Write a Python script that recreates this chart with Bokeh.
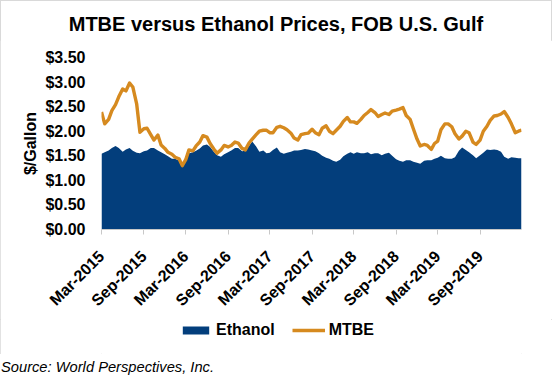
import math
from datetime import datetime
import pandas as pd
from bokeh.plotting import figure
from bokeh.layouts import column
from bokeh.models import (Range1d, FixedTicker, DatetimeTickFormatter, NumeralTickFormatter,
                          Legend, LegendItem, Div)
from bokeh.embed import file_html
from bokeh.resources import INLINE

# ---------------- data (semi-monthly readings, $/gallon) ----------------
start_date = "2015-03-01"
last_date = "2020-02-28"

mtbe = [2.39, 2.15, 2.24, 2.42, 2.54, 2.70, 2.86, 2.82, 2.98, 2.90,
        2.55, 1.98, 2.05, 2.06, 1.93, 1.82, 1.92, 1.72, 1.65, 1.57,
        1.53, 1.47, 1.44, 1.30, 1.42, 1.62, 1.60, 1.70, 1.78, 1.91,
        1.88, 1.75, 1.64, 1.55, 1.62, 1.71, 1.68, 1.71, 1.78, 1.76,
        1.65, 1.62, 1.76, 1.84, 1.93, 2.00, 2.02, 2.02, 1.97, 1.97,
        2.08, 2.10, 2.07, 2.03, 1.96, 1.86, 1.82, 1.93, 1.95, 1.96,
        2.04, 1.97, 1.93, 2.06, 2.11, 2.00, 1.95, 2.02, 2.10, 2.20,
        2.28, 2.19, 2.19, 2.16, 2.24, 2.32, 2.38, 2.44, 2.38, 2.30,
        2.34, 2.37, 2.34, 2.41, 2.43, 2.45, 2.48, 2.32, 2.24, 2.05,
        1.84, 1.70, 1.73, 1.71, 1.63, 1.75, 1.80, 2.03, 2.15, 2.15,
        2.09, 1.95, 1.84, 1.90, 2.00, 1.97, 1.78, 1.73, 1.82, 2.00,
        2.10, 2.22, 2.31, 2.32, 2.35, 2.40, 2.28, 2.15, 1.97, 2.00,
        2.02]

ethanol = [1.54, 1.57, 1.61, 1.66, 1.70, 1.66, 1.58, 1.63, 1.66, 1.60,
           1.56, 1.55, 1.59, 1.61, 1.66, 1.66, 1.61, 1.57, 1.53, 1.49,
           1.44, 1.44, 1.40, 1.31, 1.46, 1.55, 1.57, 1.60, 1.65, 1.71,
           1.73, 1.68, 1.58, 1.51, 1.48, 1.53, 1.57, 1.61, 1.66, 1.66,
           1.59, 1.60, 1.70, 1.79, 1.69, 1.58, 1.61, 1.55, 1.56, 1.62,
           1.67, 1.57, 1.54, 1.56, 1.58, 1.61, 1.61, 1.62, 1.64, 1.63,
           1.61, 1.59, 1.55, 1.50, 1.46, 1.44, 1.40, 1.38, 1.42, 1.49,
           1.54, 1.57, 1.54, 1.57, 1.55, 1.55, 1.57, 1.53, 1.55, 1.55,
           1.51, 1.54, 1.56, 1.50, 1.43, 1.40, 1.38, 1.41, 1.41, 1.38,
           1.36, 1.34, 1.40, 1.41, 1.41, 1.44, 1.46, 1.50, 1.45, 1.44,
           1.44, 1.47, 1.60, 1.67, 1.62, 1.57, 1.51, 1.45, 1.51, 1.56,
           1.63, 1.62, 1.63, 1.62, 1.58, 1.48, 1.44, 1.47, 1.46, 1.45,
           1.45]

dates = list(pd.date_range(start_date, periods=len(mtbe) - 1, freq="SMS")) + [pd.Timestamp(last_date)]

tick_dates = ["2015-03-01", "2015-09-01", "2016-03-01", "2016-09-01", "2017-03-01",
              "2017-09-01", "2018-03-01", "2018-09-01", "2019-03-01", "2019-09-01"]
y_ticks = [0.0, 0.5, 1.0, 1.5, 2.0, 2.5, 3.0, 3.5]

title_text = "MTBE versus Ethanol Prices, FOB U.S. Gulf"
source_text = "Source: World Perspectives, Inc."
y_label = "$/Gallon"
series_names = ["Ethanol", "MTBE"]

# ---------------- styling ----------------
FONT = "Liberation Sans"
BLUE = "#033E7C"
ORANGE = "#D68A1F"
W = 552

# title block (page y 0..40)
title_div = Div(text=('<div style="width:552px;text-align:center;padding-top:12px;'
                      'font-family:\'Liberation Sans\';font-weight:bold;font-size:20px;'
                      'line-height:24px;color:black;white-space:nowrap">' + title_text + '</div>'),
                width=W, height=40, margin=0)

# main chart (page y 40..319): frame 57..229 on page
ML, MT, FW, FH, MB = 101, 17, 420, 172, 90
H = MT + FH + MB
p = figure(width=W, height=H, output_backend="svg", toolbar_location=None,
           x_axis_type="datetime",
           x_range=Range1d(datetime(2015, 3, 1), pd.Timestamp(last_date).to_pydatetime()),
           y_range=Range1d(0, 3.5),
           min_border_left=ML, min_border_right=W - ML - FW,
           min_border_top=MT, min_border_bottom=MB)
p.outline_line_color = None
p.xgrid.visible = False
p.ygrid.visible = False

p.varea(x=dates, y1=0, y2=ethanol, fill_color=BLUE)
p.line(x=dates, y=mtbe, line_color=ORANGE, line_width=3.4, line_join="round")

tick_ms = [pd.Timestamp(d).value // 10**6 for d in tick_dates]
p.xaxis.ticker = FixedTicker(ticks=tick_ms)
p.xaxis.formatter = DatetimeTickFormatter(months="%b-%Y", days="%b-%Y", years="%b-%Y")
p.xaxis.major_label_orientation = math.pi / 4
p.xaxis.axis_line_color = "#C8C8C8"
p.xaxis.major_tick_line_color = "#C8C8C8"
p.xaxis.major_tick_out = 5
p.xaxis.major_tick_in = 0
p.xaxis.minor_tick_line_color = None
p.xaxis.minor_tick_out = 0
p.xaxis.major_label_standoff = 19
p.xaxis.major_label_text_font = FONT
p.xaxis.major_label_text_font_style = "bold"
p.xaxis.major_label_text_font_size = "16px"
p.xaxis.major_label_text_color = "black"

p.yaxis.ticker = FixedTicker(ticks=y_ticks)
p.yaxis.formatter = NumeralTickFormatter(format="$0.00")
p.yaxis.axis_line_color = None
p.yaxis.major_tick_line_color = None
p.yaxis.minor_tick_line_color = None
p.yaxis.major_tick_out = 0
p.yaxis.major_tick_in = 0
p.yaxis.minor_tick_out = 0
p.yaxis.major_label_standoff = 16
p.yaxis.major_label_text_font = FONT
p.yaxis.major_label_text_font_style = "bold"
p.yaxis.major_label_text_font_size = "16px"
p.yaxis.major_label_text_color = "black"
p.yaxis.axis_label = y_label
p.yaxis.axis_label_standoff = 3
p.yaxis.axis_label_text_font = FONT
p.yaxis.axis_label_text_font_style = "bold"
p.yaxis.axis_label_text_font_size = "16px"
p.yaxis.axis_label_text_color = "black"

# legend strip (page y 319..354); legend swatches use off-range stand-in renderers
LH = 354 - 40 - H
lg = figure(width=W, height=LH, output_backend="svg", toolbar_location=None,
            x_range=Range1d(0, 1), y_range=Range1d(0, 1),
            min_border_left=0, min_border_right=0, min_border_top=0, min_border_bottom=0)
lg.axis.visible = False
lg.grid.visible = False
lg.outline_line_color = None
r_eth = lg.varea(x=[5, 6], y1=[5, 5], y2=[6, 6], fill_color=BLUE)
r_mtbe = lg.line(x=[5, 6], y=[5, 5], line_color=ORANGE, line_width=3.5)
legend = Legend(items=[LegendItem(label=series_names[0], renderers=[r_eth]),
                       LegendItem(label=series_names[1], renderers=[r_mtbe])],
                location=(78, 15), orientation="horizontal",
                glyph_width=33, glyph_height=10, label_height=10, label_standoff=4,
                spacing=17, padding=0, margin=0,
                border_line_color=None, background_fill_color=None,
                label_text_font=FONT, label_text_font_style="bold", label_text_font_size="16px",
                label_text_baseline="middle", label_text_color="black")
lg.add_layout(legend, "center")

chart = column(title_div, p, lg, spacing=0, margin=0,
               styles={"outline": "1px solid #D9D9D9", "outline-offset": "-1px"})

src = Div(text=('<div style="font-family:\'Liberation Sans\';font-style:italic;font-size:14.7px;'
                'line-height:17px;color:black;padding-top:5px;padding-left:1px;white-space:nowrap">'
                + source_text + '</div>'),
          width=W, height=24, margin=0)

layout = column(chart, src, spacing=0, margin=0)

open("out.html", "w").write(file_html(layout, INLINE))
